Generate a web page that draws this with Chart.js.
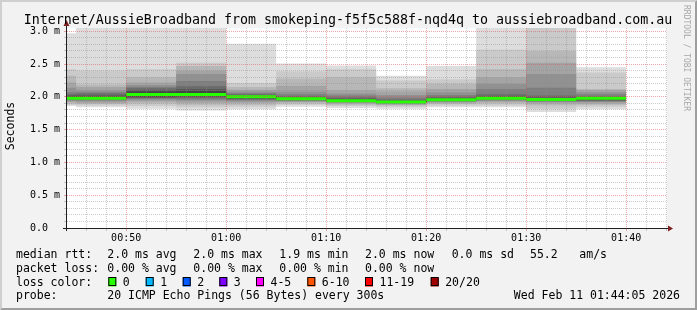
<!DOCTYPE html>
<html lang="en">
<head>
<meta charset="UTF-8">
<title>SmokePing - AussieBroadband</title>
<script src="https://cdn.jsdelivr.net/npm/chart.js"></script>
<style>
    html, body { margin: 0; padding: 0; background: #f2f2f2; }
    canvas { display: block; }
</style>
</head>
<body>

<canvas id="smokeChart" width="697" height="310"></canvas>

<script>
// data
var chartTitle = 'Internet/AussieBroadband from smokeping-f5f5c588f-nqd4q to aussiebroadband.com.au';
var axisStart = '00:44:05';
var axisEnd = '01:44:05';

// 5 minute rrd steps (start of each step), last step ends at 01:40
var stepStarts = ['00:40', '00:45', '00:50', '00:55', '01:00', '01:05',
                  '01:10', '01:15', '01:20', '01:25', '01:30', '01:35'];
var stepEnd = '01:40';

// median rtt per step (ms)
var medianRtt = [1.98, 1.98, 2.035, 2.035, 2.0, 1.97, 1.94, 1.92, 1.955, 1.98, 1.96, 1.98];

// packet loss per step (pings lost of 20)
var packetLoss = [0, 0, 0, 0, 0, 0, 0, 0, 0, 0, 0, 0];

// the 20 pings of each step, sorted (ms)
var pings = [
    [1.86, 1.88, 1.90, 1.92, 1.94, 1.95, 1.96, 1.97, 1.98, 1.98, 1.99, 2.00, 2.02, 2.04, 2.07, 2.14, 2.22, 2.32, 2.42, 2.97],
    [1.84, 1.87, 1.89, 1.91, 1.93, 1.95, 1.96, 1.97, 1.98, 1.98, 1.99, 2.00, 2.02, 2.05, 2.07, 2.10, 2.15, 2.19, 2.40, 3.40],
    [1.82, 1.86, 1.90, 1.93, 1.95, 1.97, 1.98, 1.99, 2.00, 2.02, 2.05, 2.08, 2.10, 2.13, 2.15, 2.18, 2.22, 2.30, 2.42, 3.40],
    [1.79, 1.84, 1.88, 1.91, 1.94, 1.96, 1.98, 2.00, 2.01, 2.03, 2.06, 2.09, 2.12, 2.16, 2.24, 2.35, 2.40, 2.47, 2.52, 3.40],
    [1.81, 1.85, 1.88, 1.91, 1.93, 1.95, 1.96, 1.97, 1.98, 1.99, 2.00, 2.01, 2.02, 2.04, 2.06, 2.08, 2.11, 2.15, 2.21, 2.81],
    [1.85, 1.88, 1.90, 1.92, 1.93, 1.94, 1.95, 1.96, 1.96, 1.97, 1.97, 1.98, 1.99, 2.01, 2.04, 2.08, 2.17, 2.28, 2.39, 2.51],
    [1.83, 1.86, 1.88, 1.90, 1.91, 1.92, 1.93, 1.93, 1.94, 1.94, 1.95, 1.96, 1.97, 1.99, 2.02, 2.05, 2.10, 2.30, 2.42, 2.48],
    [1.82, 1.85, 1.87, 1.88, 1.89, 1.90, 1.91, 1.91, 1.92, 1.92, 1.93, 1.93, 1.94, 1.96, 1.99, 2.03, 2.08, 2.13, 2.25, 2.32],
    [1.84, 1.87, 1.89, 1.91, 1.92, 1.93, 1.94, 1.94, 1.95, 1.95, 1.96, 1.97, 1.98, 2.00, 2.03, 2.07, 2.12, 2.20, 2.27, 2.47],
    [1.84, 1.87, 1.90, 1.92, 1.94, 1.95, 1.96, 1.97, 1.97, 1.98, 1.98, 1.99, 2.01, 2.04, 2.12, 2.20, 2.30, 2.42, 2.72, 3.30],
    [1.77, 1.82, 1.87, 1.90, 1.92, 1.93, 1.94, 1.95, 1.95, 1.96, 1.96, 1.97, 1.99, 2.02, 2.14, 2.35, 2.52, 2.70, 3.20, 3.40],
    [1.81, 1.85, 1.88, 1.90, 1.92, 1.93, 1.94, 1.95, 1.96, 1.97, 1.97, 1.98, 1.99, 2.01, 2.04, 2.07, 2.10, 2.12, 2.37, 2.45]
];

// legend texts
var rttLine = ['median rtt:', '2.0 ms avg', '2.0 ms max', '1.9 ms min', '2.0 ms now', '0.0 ms sd', '55.2', 'am/s'];
var lossLine = ['packet loss:', '0.00 % avg', '0.00 % max', '0.00 % min', '0.00 % now'];
var lossLabels = ['0', '1', '2', '3', '4-5', '6-10', '11-19', '20/20'];
var lossColors = ['#26ff00', '#00b8ff', '#0059ff', '#7e00ff', '#ff00ff', '#ff5500', '#ff0000', '#a10000'];
var probeText = '20 ICMP Echo Pings (56 Bytes) every 300s';
var stampText = 'Wed Feb 11 01:44:05 2026';

var yMax = 3.05;
var mono = 'DejaVu Sans Mono';

function toMin(s) {
    var p = s.split(':');
    return parseInt(p[0], 10) * 60 + parseInt(p[1], 10) + (p[2] ? parseInt(p[2], 10) / 60 : 0);
}

function fmtMin(v) {
    var h = Math.floor(v / 60), m = Math.round(v % 60);
    return (h < 10 ? '0' : '') + h + ':' + (m < 10 ? '0' : '') + m;
}

var xs = stepStarts.map(toMin).concat([toMin(stepEnd)]);

// one point per step start, the last value held until the step end
function stepSeries(vals) {
    return xs.map(function (x, i) {
        return { x: x, y: i < vals.length ? vals[i] : vals[vals.length - 1] };
    });
}

// smokeping grey for smoke band i (1 = outermost pair of pings)
function smokeColor(i) {
    var g = Math.floor(190 / 10 * (10 - i)) + 50;
    return 'rgb(' + g + ',' + g + ',' + g + ')';
}

function lineSet(data, extra) {
    var ds = {
        data: data,
        stepped: true,
        pointRadius: 0,
        borderWidth: 0,
        borderColor: 'transparent',
        fill: false
    };
    for (var k in extra) ds[k] = extra[k];
    return ds;
}

// datasets listed top-most first (chart.js draws the last one first)
var halfPx = 1.5 * yMax / 200;
var datasets = [];
var medColor = lossColors[packetLoss[0]];
datasets.push(lineSet(stepSeries(medianRtt.map(function (v) { return v + halfPx; })), { fill: '+1', backgroundColor: medColor }));
datasets.push(lineSet(stepSeries(medianRtt.map(function (v) { return v - halfPx; }))));
datasets.push(lineSet(stepSeries(medianRtt), { borderWidth: 1, borderColor: '#202020' }));
for (var i = 10; i >= 1; i--) {
    datasets.push(lineSet(stepSeries(pings.map(function (p) { return p[20 - i]; })), { fill: '+1', backgroundColor: smokeColor(i) }));
    datasets.push(lineSet(stepSeries(pings.map(function (p) { return p[i - 1]; }))));
}

var minorGrid = 'rgba(143,143,143,0.45)';
var majorGrid = 'rgba(222,79,79,0.5)';

function isMajorX(v) { return Math.round(v) % 10 === 0; }
function isMajorY(v) { return Math.round(v * 10) % 5 === 0; }

var xTicks = [];
for (var t = 46; t <= 104; t += 2) xTicks.push(t);
var yTicks = [];
for (var j = 0; j <= 30; j++) yTicks.push(j / 10);

var rrdPlugin = {
    id: 'rrdPlugin',
    beforeDraw: function (chart) {
        var ctx = chart.ctx, a = chart.chartArea;
        ctx.save();
        ctx.fillStyle = '#f2f2f2';
        ctx.fillRect(0, 0, chart.width, chart.height);
        ctx.fillStyle = '#ffffff';
        ctx.fillRect(a.left, a.top, a.right - a.left, a.bottom - a.top);
        ctx.restore();
    },
    afterDraw: function (chart) {
        var ctx = chart.ctx, a = chart.chartArea;
        var W = chart.width, H = chart.height;
        ctx.save();

        // axes
        var ax = a.left - 0.5, ay = a.bottom + 0.5;
        ctx.strokeStyle = '#1f1f1f';
        ctx.lineWidth = 1;
        ctx.beginPath();
        ctx.moveTo(ax, a.bottom + 3);
        ctx.lineTo(ax, a.top - 4);
        ctx.moveTo(a.left - 4, ay);
        ctx.lineTo(a.right + 2, ay);
        ctx.stroke();

        // arrows
        ctx.fillStyle = '#801f1f';
        ctx.beginPath();
        ctx.moveTo(ax, a.top - 8);
        ctx.lineTo(ax - 3, a.top - 2);
        ctx.lineTo(ax + 3, a.top - 2);
        ctx.closePath();
        ctx.fill();
        ctx.beginPath();
        ctx.moveTo(a.right + 6, ay);
        ctx.lineTo(a.right + 1, ay - 3);
        ctx.lineTo(a.right + 1, ay + 3);
        ctx.closePath();
        ctx.fill();

        // title
        ctx.fillStyle = '#000000';
        ctx.textBaseline = 'alphabetic';
        ctx.textAlign = 'center';
        ctx.font = '13.3px "' + mono + '"';
        ctx.fillText(chartTitle, 348, 24);

        // y axis title
        ctx.save();
        ctx.translate(11, 126);
        ctx.rotate(-Math.PI / 2);
        ctx.textBaseline = 'middle';
        ctx.font = '11.5px "' + mono + '"';
        ctx.fillText('Seconds', 0, 0);
        ctx.restore();

        // watermark
        ctx.save();
        ctx.translate(686, 5);
        ctx.rotate(Math.PI / 2);
        ctx.textAlign = 'left';
        ctx.textBaseline = 'middle';
        ctx.fillStyle = '#a8a8a8';
        ctx.font = '8px "' + mono + '"';
        ctx.fillText('RRDTOOL / TOBI OETIKER', 0, 0);
        ctx.restore();

        // legend
        ctx.textAlign = 'left';
        ctx.font = '11.5px "' + mono + '"';
        var cols = [16, 107.3, 193.3, 279.3, 365, 451.7, 530, 579.3];
        rttLine.forEach(function (s, i) { ctx.fillText(s, cols[i], 258); });
        lossLine.forEach(function (s, i) { ctx.fillText(s, cols[i], 271.7); });
        ctx.fillText('loss color:', 16, 285.5);
        var boxX = [108.3, 145.7, 182.7, 219.3, 256, 307.3, 365, 430.7];
        lossLabels.forEach(function (s, i) {
            ctx.fillStyle = lossColors[i];
            ctx.fillRect(boxX[i], 277.5, 8, 9);
            ctx.strokeStyle = '#000000';
            ctx.strokeRect(boxX[i] + 0.5, 277.5, 7, 8);
            ctx.fillStyle = '#000000';
            ctx.fillText(s, boxX[i] + 14.5, 285.5);
        });
        ctx.fillText('probe:', 16, 299);
        ctx.fillText(probeText, 107.3, 299);
        ctx.textAlign = 'right';
        ctx.fillText(stampText, 680, 299);

        // bevelled frame
        ctx.fillStyle = '#cfcfcf';
        ctx.beginPath();
        ctx.moveTo(0, 0); ctx.lineTo(W, 0); ctx.lineTo(W - 2, 2);
        ctx.lineTo(2, 2); ctx.lineTo(2, H - 2); ctx.lineTo(0, H);
        ctx.closePath();
        ctx.fill();
        ctx.fillStyle = '#9e9e9e';
        ctx.beginPath();
        ctx.moveTo(0, H); ctx.lineTo(W, H); ctx.lineTo(W, 0);
        ctx.lineTo(W - 2, 2); ctx.lineTo(W - 2, H - 2); ctx.lineTo(2, H - 2);
        ctx.closePath();
        ctx.fill();

        ctx.restore();
    }
};

var ctxSmoke = document.getElementById('smokeChart').getContext('2d');
var smokeChart = new Chart(ctxSmoke, {
    type: 'line',
    data: { datasets: datasets },
    plugins: [rrdPlugin],
    options: {
        responsive: false,
        animation: false,
        devicePixelRatio: 1,
        layout: { padding: { top: 28, right: 30, left: 0, bottom: 0 } },
        plugins: {
            legend: { display: false },
            tooltip: { enabled: false },
            title: { display: false }
        },
        scales: {
            x: {
                type: 'linear',
                min: toMin(axisStart),
                max: toMin(axisEnd),
                afterBuildTicks: function (s) {
                    s.ticks = xTicks.map(function (v) { return { value: v }; });
                },
                afterFit: function (s) { s.height = 82; },
                ticks: {
                    autoSkip: false,
                    maxRotation: 0,
                    padding: 1,
                    color: '#000000',
                    font: { family: mono, size: 10 },
                    callback: function (v) { return isMajorX(v) ? fmtMin(v) : ''; }
                },
                grid: {
                    z: 1,
                    tickLength: 3,
                    color: function (c) { return c.tick && isMajorX(c.tick.value) ? majorGrid : minorGrid; },
                    tickColor: function (c) { return c.tick && isMajorX(c.tick.value) ? majorGrid : minorGrid; }
                },
                border: { display: false, dash: [1, 1] }
            },
            y: {
                min: 0,
                max: yMax,
                afterBuildTicks: function (s) {
                    s.ticks = yTicks.map(function (v) { return { value: v }; });
                },
                afterFit: function (s) { s.width = 67; },
                ticks: {
                    autoSkip: false,
                    padding: 4,
                    color: '#000000',
                    font: { family: mono, size: 10 },
                    callback: function (v) {
                        if (!isMajorY(v)) return '';
                        return v === 0 ? '0.0  ' : v.toFixed(1) + ' m';
                    }
                },
                grid: {
                    z: 1,
                    tickLength: 3,
                    color: function (c) { return c.tick && isMajorY(c.tick.value) ? majorGrid : minorGrid; },
                    tickColor: function (c) { return c.tick && isMajorY(c.tick.value) ? majorGrid : minorGrid; }
                },
                border: { display: false, dash: [1, 1] }
            }
        }
    }
});
</script>

</body>
</html>
